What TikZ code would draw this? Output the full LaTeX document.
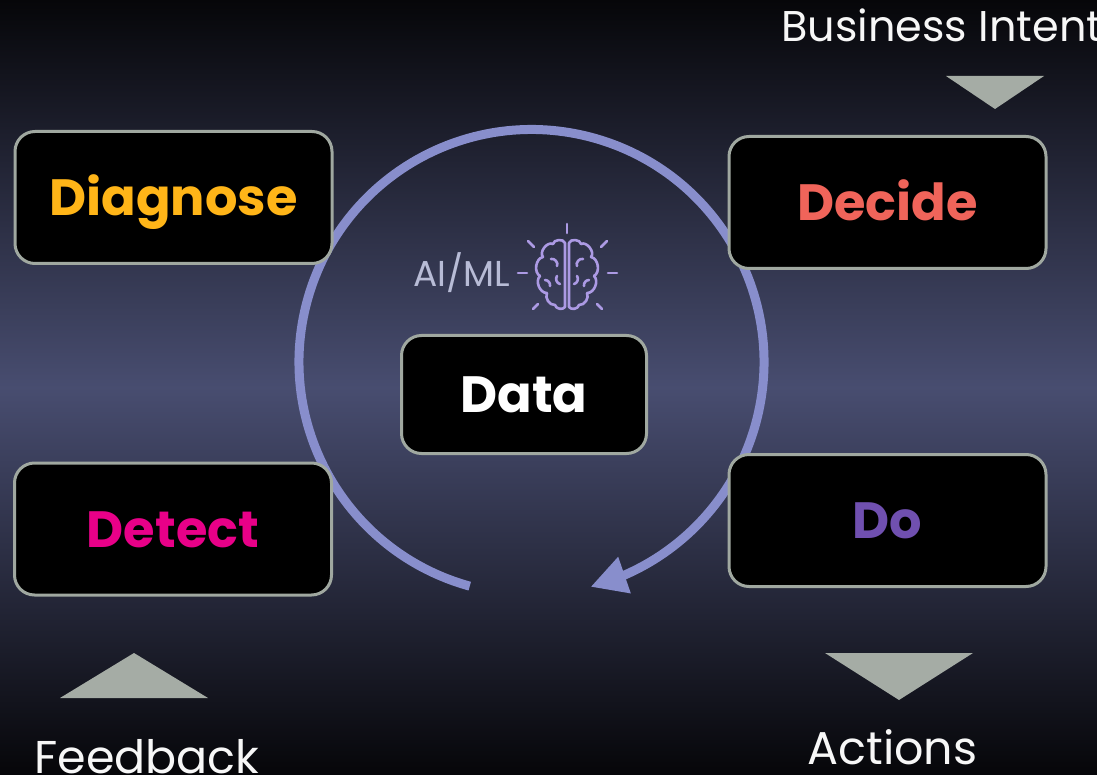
\documentclass[tikz,border=0pt]{standalone}
\usepackage{fontspec}
\setmainfont{Poppins}
\usetikzlibrary{positioning, arrows.meta, bending}
\definecolor{bgtop}{RGB}{6,6,9}
\definecolor{bgmid}{RGB}{72,77,112}
\definecolor{rimgray}{RGB}{160,168,160}
\definecolor{markgray}{RGB}{165,172,165}
\definecolor{cyclecol}{RGB}{136,142,204}
\definecolor{brainlav}{RGB}{172,154,228}
\definecolor{ailabel}{RGB}{184,188,214}
\definecolor{diagcol}{RGB}{255,181,24}
\definecolor{decicol}{RGB}{240,100,90}
\definecolor{detcol}{RGB}{232,0,136}
\definecolor{docol}{RGB}{112,80,176}
\tikzstyle{stage} = [rectangle, rounded corners=20pt, minimum width=317pt, minimum height=132pt, text height=36pt, text depth=0pt, text centered, draw=rimgray, line width=3pt, fill=black, font=\fontsize{51}{60}\selectfont\bfseries]
\tikzstyle{core} = [stage, minimum width=245pt, minimum height=118pt, text=white]
\tikzstyle{cycle} = [draw=cyclecol, line width=9pt, -{Triangle[length=36pt, width=36pt]}]
\tikzstyle{marker} = [fill=markgray]
\tikzstyle{caption} = [inner sep=0pt, text=white!94!gray, font=\fontsize{46}{56}\selectfont]
\tikzstyle{ray} = [draw=brainlav, line width=2.6pt, line cap=round, line join=round]

\begin{document}
\begin{tikzpicture}[x=1pt, y=-1pt, on grid]
% background
\useasboundingbox (0,0) rectangle (1097,775);
\shade [top color=bgtop, bottom color=bgmid] (0,0) rectangle (1097,388);
\shade [top color=bgmid, bottom color=bgtop] (0,387) rectangle (1097,775);

% the loop round the data
\coordinate (ring) at (531.5,362);
\draw [cycle] ([shift={(105.4:232.5)}]ring) arc [start angle=105.4, end angle=435.3, radius=232.5];

\node (data) [core] at (524,394.5) {Data};
\node (diagnose) [stage, text=diagcol, above left=197pt and 350.5pt of data] {Diagnose};
\node (decide) [stage, text=decicol, above right=192pt and 363.5pt of data] {Decide};
\node (detect) [stage, text=detcol, below left=134.5pt and 351pt of data] {Detect};
\node (do) [stage, text=docol, below right=126pt and 363.5pt of data] {Do};

% in and out
\fill [marker] (946,76) -- (1044,76) -- (995,109) -- cycle;
\fill [marker] (60,698) -- (208,698) -- (134,653) -- cycle;
\fill [marker] (825,653) -- (973,653) -- (899,700) -- cycle;
\node (intent) [caption, anchor=base west, font=\fontsize{43}{52}\selectfont] at (781,42) {Business Intent};
\node (feedback) [caption, anchor=base] at (147,773) {Feedback};
\node (actions) [caption, anchor=base] at (892.5,764) {Actions};

% AI/ML brain
\node (aiml) [anchor=base east, inner sep=0pt, text=ailabel, font=\fontsize{36}{40}\selectfont] at (510,287) {AI/ML};
\begin{scope}[shift={(567,274)}]
\foreach \ax/\ay/\bx/\by in {0/-50/0/-41, -39/-33/-33/-27, 40/-33/34/-27, -49/-1/-40/-1, 41/-1/50/-1, -34/35/-29/30, 35/35/30/30}
  \draw [ray] (\ax,\ay) -- (\bx,\by);
\draw [ray] (-2,-31) to[bend right=80] (-14,-30) to[bend right=80] (-24,-17) to[bend right=70] (-27,2)
  to[bend right=70] (-20,19) to[bend right=60] (-12,31) to[bend right=70] (-2,33) -- cycle;
\draw [ray] (2,-31) to[bend left=80] (14,-30) to[bend left=80] (24,-17) to[bend left=70] (27,2)
  to[bend left=70] (20,19) to[bend left=60] (12,31) to[bend left=70] (2,33) -- cycle;
\draw [ray] (-16,-15) to[bend left=70] (-10,-8);
\draw [ray] (16,-15) to[bend right=70] (10,-8);
\draw [ray] (-10,2) to[bend right=60] (-7,10);
\draw [ray] (10,2) to[bend left=60] (7,10);
\draw [ray] (-22,6) to[bend left=50] (-17,12);
\draw [ray] (22,6) to[bend right=50] (17,12);
\end{scope}
\end{tikzpicture}
\end{document}
